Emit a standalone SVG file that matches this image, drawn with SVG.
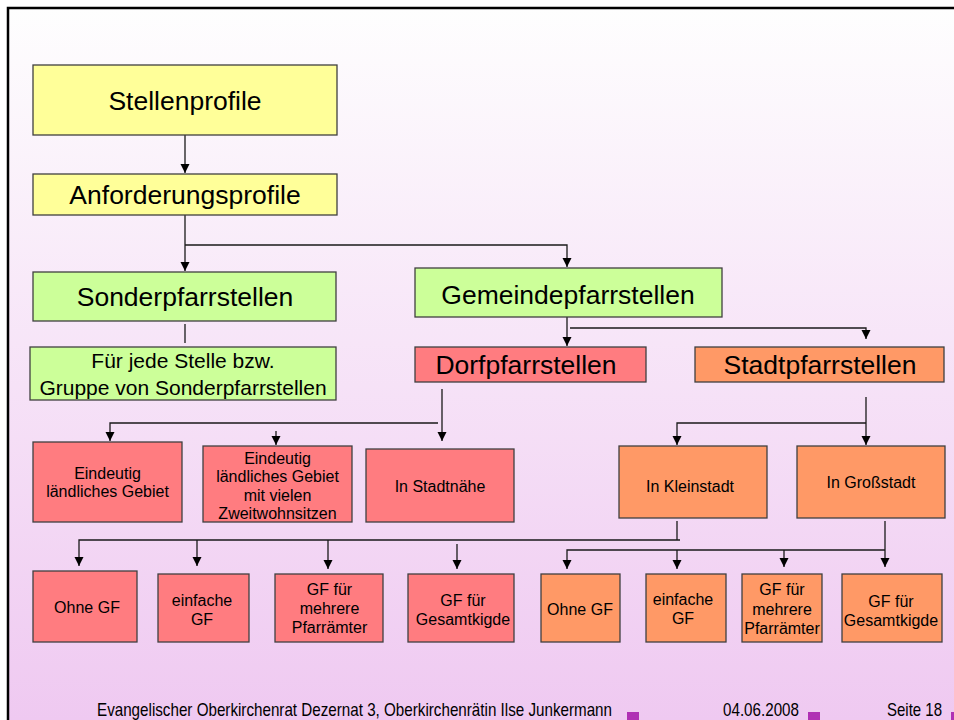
<svg xmlns="http://www.w3.org/2000/svg" width="954" height="720" viewBox="0 0 954 720">
<defs>
<linearGradient id="bg" x1="0" y1="0" x2="0" y2="1">
<stop offset="0" stop-color="#fefefe"/>
<stop offset="1" stop-color="#efc9f1"/>
</linearGradient>
<marker id="ah" viewBox="0 0 10 10" refX="10" refY="5" markerWidth="9" markerHeight="10" markerUnits="userSpaceOnUse" orient="auto">
<path d="M0,0 L10,5 L0,10 z" fill="#000"/>
</marker>
<style>
.box{stroke:#404040;stroke-width:1.3}
.y{fill:#ffff99}.g{fill:#ccff99}.r{fill:#ff7c80}.o{fill:#ff9966}
text{font-family:"Liberation Sans",Arial,sans-serif;fill:#000;text-anchor:middle}
.big{font-size:26.5px}
.mid{font-size:21px}
.sm{font-size:16px}
.ft{font-size:18.5px}
.c line,.c path{stroke:#1a1a1a;stroke-width:1.3;fill:none}
.sq{fill:#b030b4}
</style>
</defs>
<rect x="0" y="0" width="954" height="720" fill="#fff"/>
<rect x="8" y="8" width="946" height="712" fill="url(#bg)"/>
<path d="M8,720 V8 H954" fill="none" stroke="#000" stroke-width="2.5"/>

<g id="connectors" class="c">
<line x1="185" y1="135" x2="185" y2="173" marker-end="url(#ah)"/>
<line x1="185" y1="215" x2="185" y2="271" marker-end="url(#ah)"/>
<path d="M185,245 H567 V267" marker-end="url(#ah)"/>
<line x1="185" y1="324" x2="185" y2="343"/>
<line x1="567" y1="317" x2="567" y2="346" marker-end="url(#ah)"/>
<path d="M570,328 H866 V339" marker-end="url(#ah)"/>
<line x1="442" y1="389" x2="442" y2="441" marker-end="url(#ah)"/>
<path d="M438,423 H110 V441" marker-end="url(#ah)"/>
<line x1="276" y1="431" x2="276" y2="445" marker-end="url(#ah)"/>
<line x1="866" y1="397" x2="866" y2="445" marker-end="url(#ah)"/>
<path d="M866,423 H677 V445" marker-end="url(#ah)"/>
<line x1="677" y1="521" x2="677" y2="540"/>
<path d="M680,540 H79 V566" marker-end="url(#ah)"/>
<line x1="197" y1="540" x2="197" y2="566" marker-end="url(#ah)"/>
<line x1="328" y1="540" x2="328" y2="569" marker-end="url(#ah)"/>
<line x1="457" y1="544" x2="457" y2="569" marker-end="url(#ah)"/>
<line x1="885" y1="521" x2="885" y2="567" marker-end="url(#ah)"/>
<path d="M885,550 H567 V569" marker-end="url(#ah)"/>
<line x1="677" y1="550" x2="677" y2="569" marker-end="url(#ah)"/>
<line x1="784" y1="550" x2="784" y2="567" marker-end="url(#ah)"/>
</g>

<g id="stellenprofile"><rect class="box y" x="33" y="65" width="304" height="70"/><text class="big" x="185" y="110">Stellenprofile</text></g>
<g id="anforderungsprofile"><rect class="box y" x="33" y="174" width="304" height="41"/><text class="big" x="185" y="204">Anforderungsprofile</text></g>
<g id="sonderpfarrstellen"><rect class="box g" x="33" y="272" width="303" height="49"/><text class="big" x="185" y="306">Sonderpfarrstellen</text></g>
<g id="fuer-jede-stelle"><rect class="box g" x="30" y="347" width="306" height="53"/><text class="mid" x="183" y="368">Für jede Stelle bzw.</text><text class="mid" x="183" y="395">Gruppe von Sonderpfarrstellen</text></g>
<g id="gemeindepfarrstellen"><rect class="box g" x="415" y="268" width="307" height="49"/><text class="big" x="568" y="304">Gemeindepfarrstellen</text></g>
<g id="dorfpfarrstellen"><rect class="box r" x="415" y="347" width="231" height="35"/><text class="big" x="526" y="374">Dorfpfarrstellen</text></g>
<g id="stadtpfarrstellen"><rect class="box o" x="695" y="347" width="249" height="35"/><text class="big" x="820" y="374">Stadtpfarrstellen</text></g>

<g id="eindeutig-laendlich"><rect class="box r" x="33" y="442" width="149" height="80"/><text class="sm" x="107.5" y="479">Eindeutig</text><text class="sm" x="107.5" y="497">ländliches Gebiet</text></g>
<g id="zweitwohnsitze"><rect class="box r" x="203" y="446" width="149" height="76"/><text class="sm" x="277.5" y="464">Eindeutig</text><text class="sm" x="277.5" y="482">ländliches Gebiet</text><text class="sm" x="277.5" y="501">mit vielen</text><text class="sm" x="277.5" y="519">Zweitwohnsitzen</text></g>
<g id="stadtnaehe"><rect class="box r" x="366" y="449" width="148" height="73"/><text class="sm" x="440" y="492">In Stadtnähe</text></g>
<g id="kleinstadt"><rect class="box o" x="619" y="446" width="148" height="72"/><text class="sm" x="690" y="492">In Kleinstadt</text></g>
<g id="grossstadt"><rect class="box o" x="797" y="446" width="148" height="72"/><text class="sm" x="871" y="488">In Großstadt</text></g>

<g id="dorf-ohne-gf"><rect class="box r" x="33" y="571" width="104" height="71"/><text class="sm" x="87" y="613">Ohne GF</text></g>
<g id="dorf-einfache-gf"><rect class="box r" x="158" y="574" width="91" height="68"/><text class="sm" x="202" y="606">einfache</text><text class="sm" x="202" y="625">GF</text></g>
<g id="dorf-mehrere"><rect class="box r" x="275" y="574" width="108" height="68"/><text class="sm" x="329.5" y="595">GF für</text><text class="sm" x="329.5" y="614">mehrere</text><text class="sm" x="329.5" y="633">Pfarrämter</text></g>
<g id="dorf-gesamtkigde"><rect class="box r" x="408" y="574" width="106" height="68"/><text class="sm" x="463" y="606">GF für</text><text class="sm" x="463" y="625">Gesamtkigde</text></g>

<g id="stadt-ohne-gf"><rect class="box o" x="541" y="574" width="79" height="68"/><text class="sm" x="580" y="615">Ohne GF</text></g>
<g id="stadt-einfache-gf"><rect class="box o" x="646" y="574" width="80" height="68"/><text class="sm" x="683" y="605">einfache</text><text class="sm" x="683" y="624">GF</text></g>
<g id="stadt-mehrere"><rect class="box o" x="742" y="574" width="80" height="68"/><text class="sm" x="782" y="595">GF für</text><text class="sm" x="782" y="615">mehrere</text><text class="sm" x="782" y="634">Pfarrämter</text></g>
<g id="stadt-gesamtkigde"><rect class="box o" x="842" y="574" width="100" height="68"/><text class="sm" x="891" y="607">GF für</text><text class="sm" x="891" y="626">Gesamtkigde</text></g>

<g id="footer">
<text class="ft" x="354.5" y="716" textLength="515" lengthAdjust="spacingAndGlyphs">Evangelischer Oberkirchenrat Dezernat 3, Oberkirchenrätin Ilse Junkermann</text>
<text class="ft" x="761" y="716" textLength="76" lengthAdjust="spacingAndGlyphs">04.06.2008</text>
<text class="ft" x="914.5" y="716" textLength="55" lengthAdjust="spacingAndGlyphs">Seite 18</text>
<rect class="sq" x="627" y="712" width="12" height="8"/>
<rect class="sq" x="808" y="712" width="12" height="8"/>
<rect class="sq" x="951" y="712" width="3" height="8"/>
</g>
</svg>
